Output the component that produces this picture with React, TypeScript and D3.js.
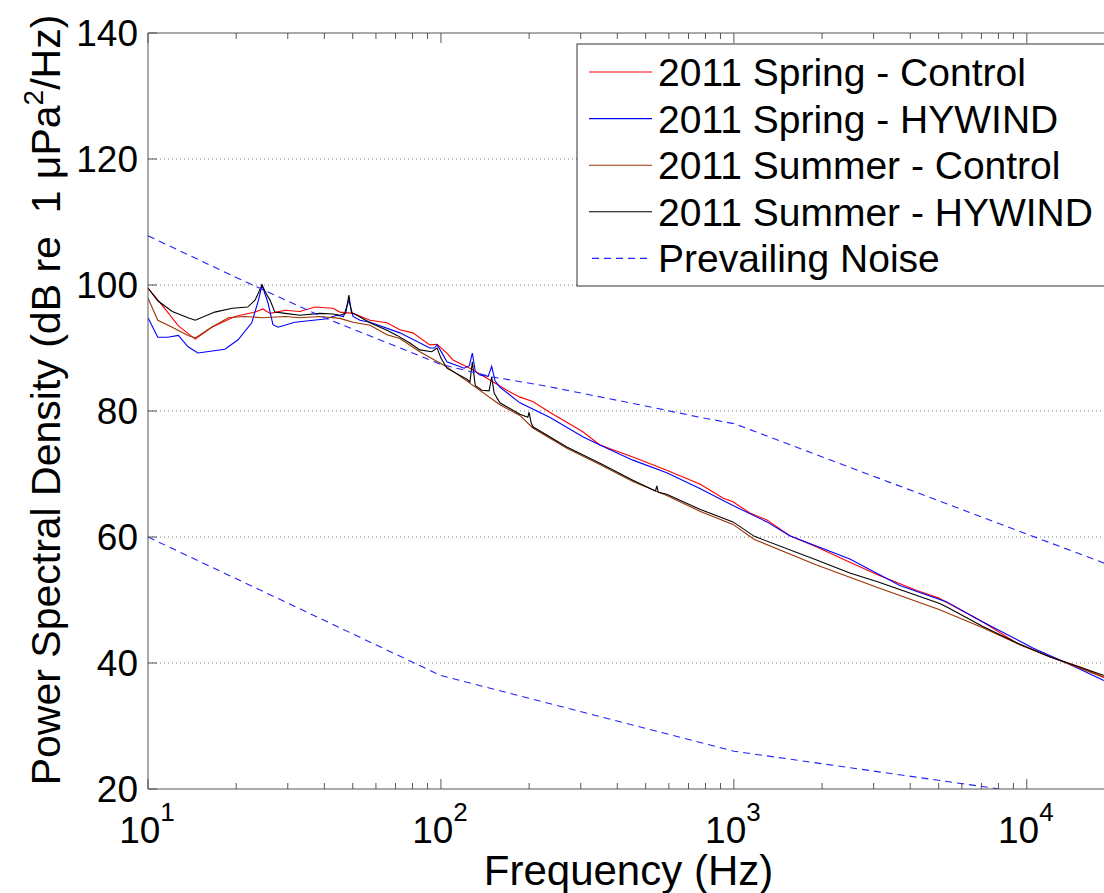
import React from "react";
import * as d3 from "d3";

type Pt = [number, number]; // [Hz, dB]

// series
const springControl: Pt[] = [
  [10, 99.5], [11.4, 96.3], [12.7, 93.5], [14.5, 91.4], [16.5, 93.3], [19.8, 95],
  [23.2, 95.7], [24.7, 96.2], [26.1, 95.5], [29.4, 96], [33, 95.8], [37.2, 96.5],
  [42.8, 96.3], [45.2, 95.7], [50.1, 95.5], [57.3, 94.4], [65.4, 94], [72.4, 92.9],
  [80.2, 92.4], [91.6, 90.5], [97, 90.6], [104.8, 89.2], [109.9, 88.1], [125.6, 86.8],
  [143.6, 85.2], [167.9, 83.3], [186, 82.2], [206, 81.5], [235, 79.8], [269, 78.2],
  [305, 76.7], [349, 74.6], [452, 72.7], [590, 70.6], [765, 68.4], [917, 66.2],
  [993, 65.6], [1134, 63.8], [1296, 62.7], [1552, 60.2], [1918, 58.4], [2488, 56],
  [3093, 54], [4213, 51.5], [5016, 50.3], [5333, 49.6], [7080, 46.5], [9350, 43],
  [11970, 41], [15520, 39.2], [18160, 37.8], [20000, 37.3],
];

const springHywind: Pt[] = [
  [10, 94.8], [10.8, 91.7], [11.7, 91.7], [12.7, 92], [13.7, 90.2], [14.8, 89.2],
  [18.3, 89.8], [20.3, 91.3], [22.6, 94], [23.8, 97.5], [24.5, 100], [25.7, 97.1],
  [26.7, 93.7], [27.8, 93.3], [31.7, 94.1], [40.2, 94.6], [44.2, 95.2], [46.5, 95],
  [48.5, 97.6], [50.1, 95], [52.9, 94.4], [57.3, 94.1], [72.4, 92.4], [91.6, 90],
  [95, 90], [97, 90.5], [100, 89.5], [104.8, 87.8], [120, 86.8], [125, 87.2],
  [128, 89.2], [131, 86.3], [135.8, 85.7], [145, 85.5], [149, 87.1], [153, 84.8],
  [158.8, 83.8], [186, 81.3], [235, 79], [305, 75.9], [349, 74.6], [452, 72.2],
  [590, 70.2], [765, 67.7], [993, 65], [1296, 62.4], [1552, 60.2], [2488, 56.5],
  [3687, 52.3], [5333, 49.7], [7080, 46.5], [10480, 42.4], [13690, 40], [18160, 37.3],
  [20000, 36.8],
];

const summerControl: Pt[] = [
  [10, 97.9], [10.8, 94.4], [12.1, 93.3], [13.7, 92], [14.5, 91.6], [16.5, 93.3],
  [18.8, 94.8], [21.4, 95], [24.5, 94.8], [29.4, 95], [33, 94.8], [38.6, 95],
  [45.2, 94.7], [50.1, 94.1], [57.3, 93.6], [65.4, 92.1], [72.4, 91.5], [84.7, 89.4],
  [104.8, 87], [123, 84.7], [159, 81], [186, 79.3], [206, 77.3], [269, 74.1],
  [349, 71.5], [452, 68.8], [590, 66.6], [765, 64.1], [993, 62], [1175, 59.6],
  [1906, 55.6], [3093, 52], [5016, 48.5], [7080, 45.6], [9350, 43], [11970, 41],
  [18160, 37.8], [20000, 37.3],
];

const summerHywind: Pt[] = [
  [10, 99.5], [10.8, 97.5], [12.1, 95.8], [13.7, 94.8], [14.5, 94.4], [16.9, 95.7],
  [19.4, 96.3], [21.9, 96.5], [23.2, 97.6], [24.5, 100], [25.4, 98.5], [26.1, 97.6],
  [27.1, 95.7], [29.4, 95.5], [33, 95.2], [38.6, 95.5], [42.8, 95.4], [45.2, 95.2],
  [47.3, 95.5], [48.5, 98.4], [49.5, 95.6], [51.7, 95.2], [57.3, 94], [65.4, 92.8],
  [70.8, 92], [78.3, 90.8], [84.7, 89.7], [93, 89.4], [97, 90], [100, 88.4],
  [104.8, 86.8], [123, 85], [125.6, 84.6], [128, 87.8], [131, 84], [138, 83.3],
  [146, 83.2], [149, 85.4], [152, 82.8], [159, 81.3], [186, 79.5], [198, 79],
  [200, 79.8], [203, 78.2], [206, 77.5], [269, 74.3], [349, 71.7], [452, 69],
  [540, 67.3], [546, 68.1], [552, 67.1], [590, 66.8], [765, 64.4], [993, 62.4],
  [1175, 60.1], [1906, 56.4], [2488, 54.3], [3093, 52.9], [5016, 49.5], [5333, 48.9],
  [7080, 45.8], [9350, 43.1], [11970, 41], [18160, 38.1], [20000, 37.6],
];

const noiseUpper: Pt[] = [
  [10, 107.8], [20, 101.2], [40, 94.8], [70, 90.3], [100, 87.4], [150, 85.4],
  [220, 84.1], [500, 80.8], [765, 79], [1000, 78], [20000, 55.2],
];

const noiseLower: Pt[] = [
  [10, 60], [100, 38], [1000, 26], [20000, 17.4],
];

const series = [
  { name: "2011 Spring - Control", data: springControl, color: "#ff0000" },
  { name: "2011 Spring - HYWIND", data: springHywind, color: "#0000ff" },
  { name: "2011 Summer - Control", data: summerControl, color: "#993300" },
  { name: "2011 Summer - HYWIND", data: summerHywind, color: "#000000" },
];
const noiseName = "Prevailing Noise";

const yTicks = [20, 40, 60, 80, 100, 120, 140];
const xMajor = [10, 100, 1000, 10000];

const FONT = "'Liberation Sans', Arial, sans-serif";
const left = 148, right = 1115, top = 33, bottom = 789;

export default function App() {
  const x = d3.scaleLog().domain([10, 20000]).range([left, right]);
  const y = d3.scaleLinear().domain([20, 140]).range([bottom, top]);
  const line = d3.line<Pt>().x((d) => x(d[0])).y((d) => y(d[1]));
  const minor = x.ticks().filter((t) => !xMajor.includes(t) && t < 20000);
  const axisColor = "#555";
  const rowY = (i: number) => 72 + i * 46.6;

  return (
    <svg
      width={1104}
      height={893}
      style={{ position: "absolute", left: 0, top: 0, background: "#fff" }}
      fontFamily={FONT}
    >
      <defs>
        <clipPath id="plot">
          <rect x={left} y={top} width={right - left} height={bottom - top} />
        </clipPath>
      </defs>

      {/* grid */}
      {yTicks.slice(1, -1).map((t) => (
        <line key={t} x1={left} x2={right} y1={y(t)} y2={y(t)}
          stroke="#777" strokeWidth={1} strokeDasharray="1,3" />
      ))}

      <g clipPath="url(#plot)" fill="none">
        {series.map((s) => (
          <path key={s.name} d={line(s.data) || ""} stroke={s.color} strokeWidth={1.1} />
        ))}
        <path d={line(noiseUpper) || ""} stroke="#2222ff" strokeWidth={1.1} strokeDasharray="7,5" />
        <path d={line(noiseLower) || ""} stroke="#2222ff" strokeWidth={1.1} strokeDasharray="7,5" />
      </g>

      {/* axes box */}
      <line x1={left} x2={left} y1={top} y2={bottom} stroke={axisColor} />
      <line x1={left} x2={right} y1={bottom} y2={bottom} stroke={axisColor} />
      <line x1={left} x2={right} y1={top} y2={top} stroke={axisColor} />

      {yTicks.map((t) => (
        <g key={t}>
          <line x1={left} x2={left + 9} y1={y(t)} y2={y(t)} stroke={axisColor} />
          <text x={138} y={y(t)} dy="0.36em" textAnchor="end" fontSize={37} fill="#000">{t}</text>
        </g>
      ))}

      {xMajor.map((t) => (
        <g key={t}>
          <line x1={x(t)} x2={x(t)} y1={bottom} y2={bottom - 10} stroke={axisColor} />
          <line x1={x(t)} x2={x(t)} y1={top} y2={top + 10} stroke={axisColor} />
          <text x={x(t) - 1} y={843} textAnchor="middle" fontSize={37} fill="#000">
            10<tspan fontSize={26} dy={-22}>{Math.round(Math.log10(t))}</tspan>
          </text>
        </g>
      ))}
      {minor.map((t) => (
        <g key={t}>
          <line x1={x(t)} x2={x(t)} y1={bottom} y2={bottom - 6} stroke={axisColor} />
          <line x1={x(t)} x2={x(t)} y1={top} y2={top + 6} stroke={axisColor} />
        </g>
      ))}

      <text x={(left + right) / 2 - 3} y={885} textAnchor="middle" fontSize={42} fill="#000">
        Frequency (Hz)
      </text>
      <text transform={`translate(60, ${400}) rotate(-90)`} textAnchor="middle" fontSize={41}
        fill="#000" style={{ whiteSpace: "pre" }}>
        {"Power Spectral Density (dB re  1 μPa"}<tspan fontSize={28} dy={-17}>2</tspan>
        <tspan dy={17}>/Hz)</tspan>
      </text>

      {/* legend */}
      <g>
        <rect x={577} y={44} width={560} height={242} fill="#fff" stroke="#333" strokeWidth={1} />
        {series.map((s, i) => (
          <g key={s.name}>
            <line x1={589} x2={652} y1={rowY(i)} y2={rowY(i)} stroke={s.color} strokeWidth={1.1} />
            <text x={658} y={rowY(i)} dy="0.36em" fontSize={39} fill="#000">{s.name}</text>
          </g>
        ))}
        <line x1={592} x2={652} y1={rowY(4)} y2={rowY(4)}
          stroke="#2222ff" strokeWidth={1.1} strokeDasharray="7,5" />
        <text x={658} y={rowY(4)} dy="0.36em" fontSize={39} fill="#000">{noiseName}</text>
      </g>
    </svg>
  );
}
